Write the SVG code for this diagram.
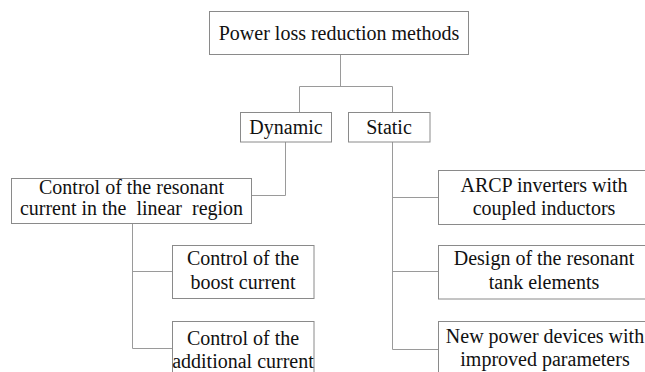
<svg xmlns="http://www.w3.org/2000/svg" width="645" height="372" viewBox="0 0 645 372">
<style>
.n{fill:#fff;stroke:#8a8a8a;stroke-width:1}
text{font-family:"Liberation Serif","DejaVu Serif",serif;font-size:20px;fill:#111;text-anchor:middle;white-space:pre}
#connectors path{fill:none;stroke:#9a9a9a;stroke-width:1}
</style>
<rect width="645" height="372" fill="#fff"/>
<g id="connectors">
<path d="M340.5 54V86.5M299.5 86.5H392.5M299.5 86.5V112M392.5 86.5V112"/>
<path d="M285.5 142V195.5H252"/>
<path d="M132.5 223V348.5H172M132.5 271.5H172"/>
<path d="M392.5 142V349.5H438M392.5 197.5H438M392.5 271.5H438"/>
</g>
<g id="root"><rect class="n" x="209.5" y="11.5" width="259" height="43"/><text x="339" y="39.5">Power loss reduction methods</text></g>
<g id="dynamic"><rect class="n" x="240.5" y="112.5" width="91" height="29.5"/><text x="286" y="133.5">Dynamic</text></g>
<g id="static"><rect class="n" x="348.5" y="112.5" width="81.5" height="29.5"/><text x="389" y="133.5">Static</text></g>
<g id="control-linear"><rect class="n" x="11.5" y="178.5" width="240" height="45"/><text x="131.5" y="193.5">Control of the resonant</text><text x="131.5" y="214.5">current in the  linear  region</text></g>
<g id="boost"><rect class="n" x="172.5" y="245.5" width="141.5" height="53"/><text x="243" y="265">Control of the</text><text x="243" y="288.5">boost current</text></g>
<g id="additional"><rect class="n" x="172.5" y="321.5" width="141.5" height="60"/><text x="243" y="345">Control of the</text><text x="243" y="367.5">additional current</text></g>
<g id="arcp"><rect class="n" x="438.5" y="170.5" width="212" height="54"/><text x="544" y="191.5">ARCP inverters with</text><text x="544" y="215">coupled inductors</text></g>
<g id="design"><rect class="n" x="438.5" y="245.5" width="212" height="53.5"/><text x="544" y="265">Design of the resonant</text><text x="544" y="288.5">tank elements</text></g>
<g id="devices"><rect class="n" x="438.5" y="321.5" width="212" height="60"/><text x="545" y="343">New power devices with</text><text x="545" y="365.5">improved parameters</text></g>
</svg>
